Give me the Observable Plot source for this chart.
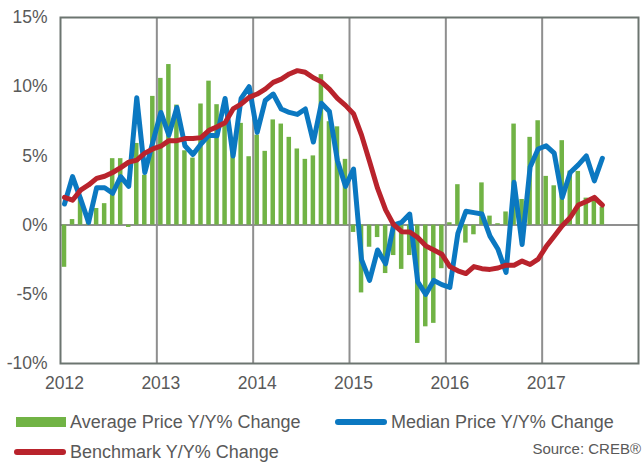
<!DOCTYPE html>
<html>
<head>
<meta charset="utf-8">
<script src="https://cdn.jsdelivr.net/npm/d3@7"></script>
<script src="https://cdn.jsdelivr.net/npm/@observablehq/plot@0.6"></script>
<style>
  body { margin: 0; background: #fff; font-family: "Liberation Sans", Arial, sans-serif; }
  #wrap { position: relative; width: 643px; height: 462px; overflow: hidden; }
  #chart { position: absolute; left: 0; top: 0; }
  .lt { position: absolute; font-size: 18px; color: #595959; white-space: nowrap; line-height: 1; }
  .sw { position: absolute; }
</style>
</head>
<body>
<div id="wrap">
  <div id="chart"></div>
  <div class="sw" style="left:16px;top:417px;width:50px;height:10px;background:#71b345;"></div>
  <div class="lt" style="left:70px;top:413px;">Average Price Y/Y% Change</div>
  <div class="sw" style="left:335px;top:419px;width:52px;height:6px;border-radius:3px;background:#0b78c1;"></div>
  <div class="lt" style="left:391px;top:413px;">Median Price Y/Y% Change</div>
  <div class="sw" style="left:14px;top:449px;width:52px;height:6px;border-radius:3px;background:#b9232c;"></div>
  <div class="lt" style="left:70px;top:443px;">Benchmark Y/Y% Change</div>
  <div class="lt" style="right:2px;top:441px;font-size:15px;">Source: CREB®</div>
</div>
<script>
// Monthly series, Jan 2012 .. Aug 2017
const yearLabels = ["2012", "2013", "2014", "2015", "2016", "2017"];
const yTicks = [-10, -5, 0, 5, 10, 15];

const avgPrice = [
  -3.05, 0.4, 2.0, 0.3, 1.2, 1.55, 4.8, 4.8, -0.17, 5.9, 3.6, 9.3,
  10.6, 11.6, 8.67, 5.37, 4.84, 8.75, 10.4, 8.7, 7.2, 5.5, 7.35, 4.94,
  6.5, 5.33, 7.6, 7.3, 6.34, 5.5, 4.75, 5.0, 10.87, 7.47, 7.1, 4.75,
  -0.53, -4.9, -1.6, -0.9, -3.5, -2.2, -3.2, -2.2, -8.55, -7.35, -7.1, -3.15,
  0.17, 2.92, -1.3, -0.7, 3.05, 0.65, 0.1, 0.95, 7.3, 1.85, 6.34, 7.54,
  3.52, 2.84, 6.1, 3.9, 3.88, 1.95, 1.85, 1.3
];
const medianPrice = [
  1.52, 3.5, 1.9, 0.2, 2.7, 2.7, 2.3, 3.5, 2.8, 9.2, 3.8, 6.0,
  8.14, 6.5, 8.5, 5.73, 5.1, 5.86, 6.5, 6.46, 9.15, 5.0, 9.16, 10.0,
  6.7, 9.0, 9.47, 8.39, 8.14, 8.0, 8.39, 6.0, 8.8, 8.2, 4.65, 2.8,
  4.05, -2.5, -4.0, -1.8, -2.8, 0.0, 0.2, 0.8, -4.1, -5.0, -4.0, -4.3,
  -4.5, -0.6, 1.0, 0.9, 0.8, -0.8, -1.75, -3.42, 3.1, -1.4, 4.2, 5.5,
  5.73, 5.2, 2.0, 3.8, 4.35, 5.0, 3.2, 4.83
];
const benchmark = [
  2.0, 1.8, 2.53, 2.9, 3.38, 3.53, 3.8, 4.15, 4.55, 4.7, 5.2, 5.5,
  5.7, 6.1, 6.1, 6.25, 6.25, 6.32, 6.85, 7.1, 7.4, 8.39, 8.75, 9.23,
  9.47, 9.83, 10.31, 10.55, 10.92, 11.16, 11.04, 10.65, 10.35, 9.83, 9.15, 8.65,
  8.05, 6.5, 4.6, 2.65, 1.1, 0.03, -0.48, -0.5, -0.9, -1.5, -1.8, -2.1,
  -3.0, -3.3, -3.5, -3.0, -3.15, -3.2, -3.1, -2.9, -2.9, -2.6, -2.85, -2.46,
  -1.55, -0.8, -0.05, 0.55, 1.45, 1.7, 2.0, 1.45
];

// month index (0 = Jan 2012) used as category position
const rows = avgPrice.map((v, i) => ({m: i, avg: v, med: medianPrice[i], bench: benchmark[i]}));
const yearStarts = yearLabels.map((y, i) => i * 12);

const chart = Plot.plot({
  width: 643,
  height: 400,
  marginLeft: 60,
  marginRight: 5,
  marginTop: 17,
  marginBottom: 37,
  style: {fontFamily: "'Liberation Sans', Arial, sans-serif", background: "#fff", overflow: "visible"},
  x: {domain: [0, 72]},
  y: {domain: [-10, 15]},
  marks: [
    Plot.ruleX(yearStarts.slice(1), {stroke: "#8f8f8f", strokeWidth: 2}),
    Plot.ruleY([0], {stroke: "#8f8f8f", strokeWidth: 2}),
    Plot.rectY(rows, {x1: d => d.m + 0.22, x2: d => d.m + 0.78, y1: 0, y2: "avg", fill: "#71b345"}),
    Plot.line(rows, {x: d => d.m + 0.5, y: "med", stroke: "#0b78c1", strokeWidth: 5, strokeLinejoin: "round", strokeLinecap: "round"}),
    Plot.line(rows, {x: d => d.m + 0.5, y: "bench", stroke: "#b9232c", strokeWidth: 5, strokeLinejoin: "round", strokeLinecap: "round"}),
    Plot.frame({stroke: "#6c7570", strokeWidth: 2}),
    Plot.axisY({ticks: yTicks, tickFormat: d => d + "%", tickSize: 0, tickPadding: 13, fontSize: 17.5, fill: "#595959", label: null}),
    Plot.axisX({ticks: yearStarts.map(s => s + 0.5), tickFormat: d => yearLabels[Math.floor(d / 12)], tickSize: 0, tickPadding: 13, fontSize: 17.5, fill: "#595959", label: null})
  ]
});
document.getElementById("chart").appendChild(chart);
</script>
</body>
</html>
